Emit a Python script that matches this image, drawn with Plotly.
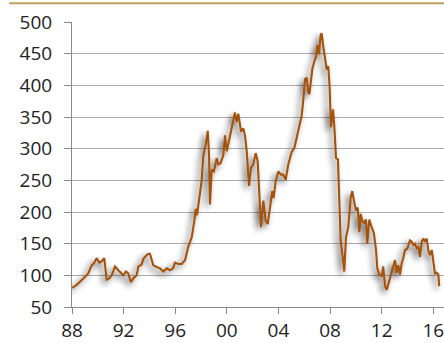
import plotly.graph_objects as go

# Price index, decimal year vs. index level
years = [
    1988.00, 1988.36, 1988.88, 1989.26, 1989.53, 1989.70, 1989.91, 1990.12, 1990.30, 1990.50,
    1990.69, 1990.89, 1991.08, 1991.33, 1991.59, 1991.85, 1991.98, 1992.18, 1992.36, 1992.57,
    1992.75, 1993.01, 1993.14, 1993.40, 1993.53, 1993.79, 1993.91, 1994.04, 1994.30, 1994.56,
    1994.82, 1995.08, 1995.34, 1995.59, 1995.83, 1995.98, 1996.24, 1996.50, 1996.76, 1997.01,
    1997.28, 1997.48, 1997.59, 1997.69, 1997.79, 1997.92, 1998.05, 1998.18, 1998.36, 1998.52,
    1998.62, 1998.69, 1998.83, 1999.00, 1999.21, 1999.34, 1999.51, 1999.73, 1999.86, 1999.99,
    2000.17, 2000.32, 2000.50, 2000.63, 2000.76, 2000.89, 2001.10, 2001.28, 2001.41, 2001.54,
    2001.72, 2001.87, 2002.05, 2002.24, 2002.39, 2002.53, 2002.65, 2002.83, 2003.01, 2003.17,
    2003.34, 2003.52, 2003.62, 2003.79, 2003.99, 2004.20, 2004.37, 2004.56, 2004.76, 2005.03,
    2005.23, 2005.34, 2005.54, 2005.67, 2005.80, 2005.93, 2006.06, 2006.19, 2006.31, 2006.40,
    2006.52, 2006.62, 2006.78, 2006.91, 2007.01, 2007.14, 2007.27, 2007.35, 2007.47, 2007.61,
    2007.74, 2007.86, 2007.96, 2008.07, 2008.23, 2008.34, 2008.46, 2008.61, 2008.71, 2008.82,
    2008.98, 2009.10, 2009.23, 2009.41, 2009.60, 2009.72, 2009.85, 2010.01, 2010.14, 2010.27,
    2010.37, 2010.53, 2010.63, 2010.78, 2010.88, 2011.04, 2011.23, 2011.40, 2011.56, 2011.66,
    2011.81, 2012.00, 2012.12, 2012.26, 2012.39, 2012.51, 2012.70, 2012.85, 2013.03, 2013.16,
    2013.29, 2013.42, 2013.55, 2013.67, 2013.81, 2013.98, 2014.19, 2014.33, 2014.45, 2014.58,
    2014.71, 2014.84, 2014.97, 2015.10, 2015.22, 2015.36, 2015.49, 2015.61, 2015.74, 2015.88,
    2016.00, 2016.13, 2016.26, 2016.39, 2016.46,
]
index_level = [
    80, 85, 95, 103, 116, 119, 127, 120, 122, 127,
    93, 95, 100, 114, 108, 103, 100, 106, 103, 89,
    95, 100, 114, 117, 126, 132, 134, 134, 116, 113,
    111, 106, 111, 108, 111, 120, 118, 118, 124, 145,
    160, 186, 205, 195, 213, 233, 250, 290, 306, 328,
    290, 212, 267, 264, 285, 275, 277, 290, 321, 296,
    311, 327, 345, 357, 342, 355, 327, 332, 320, 296,
    241, 270, 275, 293, 280, 228, 176, 218, 186, 181,
    207, 233, 222, 249, 264, 259, 259, 251, 275, 295,
    301, 311, 324, 337, 352, 378, 410, 412, 389, 386,
    404, 425, 438, 445, 464, 449, 480, 482, 462, 441,
    425, 430, 400, 334, 362, 332, 285, 283, 223, 155,
    129, 106, 160, 176, 223, 233, 218, 202, 207, 168,
    197, 184, 183, 188, 150, 188, 176, 166, 140, 111,
    101, 99, 114, 83, 77, 86, 101, 109, 124, 104,
    116, 101, 119, 127, 140, 142, 155, 153, 148, 150,
    143, 145, 129, 153, 158, 153, 158, 140, 132, 140,
    119, 103, 104, 101, 83,
]

tick_years = [1988, 1992, 1996, 2000, 2004, 2008, 2012, 2016]
tick_text = ["88", "92", "96", "00", "04", "08", "12", "16"]
y_ticks = [50, 100, 150, 200, 250, 300, 350, 400, 450, 500]

LINE = "#A4520E"
GRID = "#ABABAB"
AXIS = "#8A8A8A"
GOLD = "#BFA05C"

fig = go.Figure()
fig.add_trace(go.Scatter(
    x=years, y=index_level, mode="lines",
    line=dict(color=LINE, width=2.1),
    hoverinfo="skip", showlegend=False,
))

fig.update_layout(
    width=444, height=343,
    margin=dict(l=72, r=0, t=22, b=32),
    paper_bgcolor="white", plot_bgcolor="white",
    font=dict(family="Open Sans, sans-serif", size=19, color="#222222"),
    showlegend=False,
    shapes=[dict(type="line", xref="paper", yref="paper",
                 x0=-0.169, x1=1.0, y0=1.066, y1=1.066,
                 line=dict(color=GOLD, width=2))],
)
fig.update_xaxes(
    range=[1988, 2016.83], tickvals=tick_years, ticktext=tick_text,
    showgrid=False, showline=True, linecolor=AXIS, linewidth=1,
    ticks="outside", ticklen=6, tickcolor=AXIS, zeroline=False,
    ticklabeloverflow="allow", fixedrange=True,
)
fig.update_yaxes(
    range=[50, 500], tickvals=y_ticks,
    showgrid=True, gridcolor=GRID, gridwidth=1,
    showline=True, linecolor=AXIS, linewidth=1,
    ticks="outside", ticklen=7, tickcolor=AXIS, zeroline=False,
    ticklabelstandoff=8, fixedrange=True,
)

# Soft drop shadow under the price line
shadow_js = """
var gd = document.getElementById('{plot_id}');
function addShadow() {
  var ns = 'http://www.w3.org/2000/svg';
  var svg = gd.querySelector('svg.main-svg');
  var paths = gd.querySelectorAll('.scatterlayer path.js-line');
  if (!svg || paths.length === 0) return;
  var f = svg.querySelector('#lineshadow');
  if (!f) {
    f = document.createElementNS(ns, 'filter');
    f.setAttribute('id', 'lineshadow');
    f.setAttribute('filterUnits', 'userSpaceOnUse');
    f.setAttribute('x', '-100'); f.setAttribute('y', '-100');
    f.setAttribute('width', '700'); f.setAttribute('height', '600');
    var blur = document.createElementNS(ns, 'feGaussianBlur');
    blur.setAttribute('in', 'SourceAlpha');
    blur.setAttribute('stdDeviation', '3.2');
    blur.setAttribute('result', 'b');
    var off = document.createElementNS(ns, 'feOffset');
    off.setAttribute('in', 'b');
    off.setAttribute('dx', '-3'); off.setAttribute('dy', '3');
    off.setAttribute('result', 'o');
    var ct = document.createElementNS(ns, 'feComponentTransfer');
    ct.setAttribute('in', 'o'); ct.setAttribute('result', 's');
    var fa = document.createElementNS(ns, 'feFuncA');
    fa.setAttribute('type', 'linear'); fa.setAttribute('slope', '0.7');
    ct.appendChild(fa);
    var merge = document.createElementNS(ns, 'feMerge');
    var m1 = document.createElementNS(ns, 'feMergeNode'); m1.setAttribute('in', 's');
    var m2 = document.createElementNS(ns, 'feMergeNode'); m2.setAttribute('in', 'SourceGraphic');
    merge.appendChild(m1); merge.appendChild(m2);
    f.appendChild(blur); f.appendChild(off); f.appendChild(ct); f.appendChild(merge);
    var defs = svg.querySelector('defs');
    if (!defs) { defs = document.createElementNS(ns, 'defs'); svg.insertBefore(defs, svg.firstChild); }
    defs.appendChild(f);
  }
  paths.forEach(function (p) { p.setAttribute('filter', 'url(#lineshadow)'); });
}
addShadow();
gd.on('plotly_afterplot', addShadow);
"""

fig.write_html("out.html", config={"displayModeBar": False}, post_script=shadow_js)
